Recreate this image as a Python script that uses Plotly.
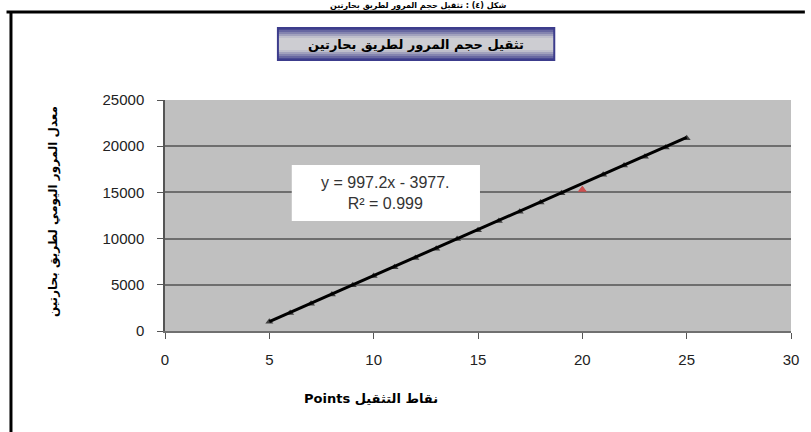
import plotly.graph_objects as go

# ---- data ----
points = [5, 6, 7, 8, 9, 10, 11, 12, 13, 14, 15, 16, 17, 18, 19, 20, 21, 22, 23, 24, 25]
traffic = [1000, 1950, 2950, 3950, 4950, 5950, 6900, 7900, 8900, 9950, 10900,
           11900, 12900, 13900, 14900, 15300, 16900, 17900, 18850, 19850, 20850]
highlight_point = [20]
highlight_value = [15300]
trend_slope = 997.2
trend_intercept = -3977
trend_x = [5, 25]
x_ticks = [0, 5, 10, 15, 20, 25, 30]
y_ticks = [0, 5000, 10000, 15000, 20000, 25000]
y_tick_labels = ["0", "5000", "10000", "15000", "20000", "25000"]

title_text = "تثقيل حجم المرور لطريق بحارتين"
y_title = "معدل المرور اليومي لطريق بحارتين"
x_title = "Points نقاط التثقيل"
eq_text = "y = 997.2x - 3977.<br>R² = 0.999"
top_text = "شكل (٤) : تثقيل حجم المرور لطريق بحارتين"

W, H = 811, 432
L, R, T, B = 165, 797, 100, 331

def px(x):
    return (x - L) / (R - L)

def py(y):
    return (B - y) / (B - T)

trend_y = [trend_slope * v + trend_intercept for v in trend_x]

fig = go.Figure()
fig.add_trace(go.Scatter(x=points, y=traffic, mode="markers",
                         marker=dict(symbol="triangle-up", size=7, color="#404040"),
                         showlegend=False, hoverinfo="skip"))
fig.add_trace(go.Scatter(x=highlight_point, y=highlight_value, mode="markers",
                         marker=dict(symbol="triangle-up", size=8, color="#d05050"),
                         showlegend=False, hoverinfo="skip"))
fig.add_trace(go.Scatter(x=trend_x, y=trend_y, mode="lines",
                         line=dict(color="#000000", width=3),
                         showlegend=False, hoverinfo="skip"))

shapes = []
# outer border
shapes.append(dict(type="line", xref="paper", yref="paper", x0=px(5), x1=px(811), y0=py(12), y1=py(12),
                   line=dict(color="#000", width=3), layer="above"))
shapes.append(dict(type="line", xref="paper", yref="paper", x0=px(9.5), x1=px(9.5), y0=py(12), y1=py(432),
                   line=dict(color="#000", width=3), layer="above"))
# title box with vertical gradient
tx0, tx1, ty0, ty1 = 279, 558, 28, 60
n = 16
dark = (60, 60, 140)
light = (205, 205, 210)
for i in range(n):
    ya = ty0 + (ty1 - ty0) * i / n
    yb = ty0 + (ty1 - ty0) * (i + 1) / n
    mid = (i + 0.5) / n
    t = 1 - abs(mid - 0.5) * 2
    t = min(1, t * 1.6)
    c = tuple(int(dark[k] + (light[k] - dark[k]) * t) for k in range(3))
    shapes.append(dict(type="rect", xref="paper", yref="paper", x0=px(tx0), x1=px(tx1),
                       y0=py(ya), y1=py(yb), line=dict(width=0),
                       fillcolor="rgb(%d,%d,%d)" % c, layer="above"))
shapes.append(dict(type="rect", xref="paper", yref="paper", x0=px(tx0), x1=px(tx1), y0=py(ty0), y1=py(ty1),
                   line=dict(color="#3c3c8c", width=2), layer="above"))
# equation box
shapes.append(dict(type="rect", xref="paper", yref="paper", x0=px(293), x1=px(483), y0=py(165), y1=py(221),
                   line=dict(width=0), fillcolor="white", layer="above"))

annotations = [
    dict(text="<b>" + title_text + "</b>", xref="paper", yref="paper", x=px(418), y=py(44), showarrow=False,
         font=dict(family="DejaVu Sans", size=13, color="#000"), xanchor="center", yanchor="middle"),
    dict(text="<b>" + y_title + "</b>", xref="paper", yref="paper", x=px(52), y=py(212), showarrow=False,
         textangle=-90, font=dict(family="DejaVu Sans", size=12, color="#000"),
         xanchor="center", yanchor="middle"),
    dict(text="<b>" + x_title + "</b>", xref="paper", yref="paper", x=px(373), y=py(398), showarrow=False,
         font=dict(family="DejaVu Sans", size=13, color="#000"), xanchor="center", yanchor="middle"),
    dict(text=eq_text, xref="paper", yref="paper", x=px(388), y=py(193), showarrow=False,
         font=dict(family="Liberation Sans", size=16, color="#333"), xanchor="center", yanchor="middle",
         align="center"),
    dict(text="<b>" + top_text + "</b>", xref="paper", yref="paper", x=px(420), y=py(5.5), showarrow=False,
         font=dict(family="DejaVu Sans", size=8, color="#000"), xanchor="center", yanchor="middle"),
]

fig.update_layout(
    width=W, height=H,
    margin=dict(l=L, r=W - R, t=T, b=H - B),
    paper_bgcolor="white", plot_bgcolor="#c0c0c0",
    shapes=shapes, annotations=annotations,
    font=dict(family="Liberation Sans", size=15, color="#222"),
    xaxis=dict(range=[0, 30], tickvals=x_ticks, showgrid=False, zeroline=False,
               showline=True, linecolor="#707070", linewidth=2, ticks="outside", ticklen=6,
               tickcolor="#555", tickfont=dict(size=15, color="#222"), ticklabelstandoff=8,
               fixedrange=True),
    yaxis=dict(range=[0, 25000], tickvals=y_ticks, ticktext=y_tick_labels, showgrid=True,
               gridcolor="#6e6e6e", gridwidth=1.5,
               zeroline=False, showline=True, linecolor="#555", linewidth=1.5, ticks="outside",
               ticklen=6, tickcolor="#555", tickfont=dict(size=15, color="#222"), ticklabelstandoff=10,
               fixedrange=True),
)

fig.write_html("out.html")
